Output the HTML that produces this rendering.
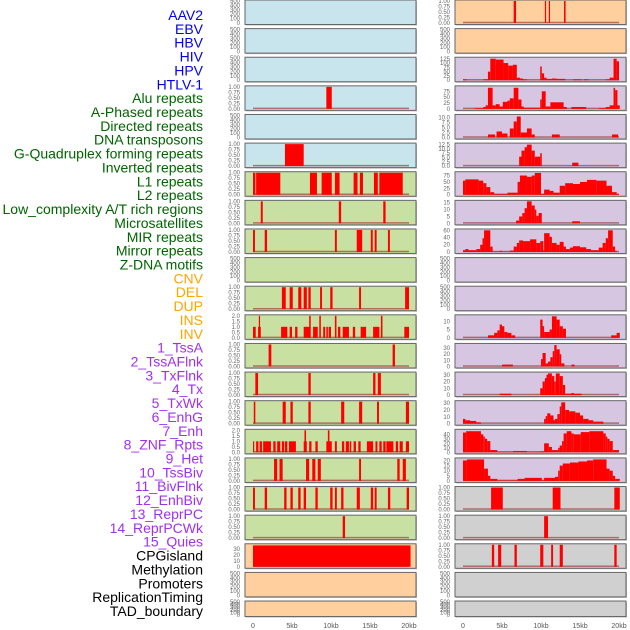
<!DOCTYPE html>
<html><head><meta charset="utf-8"><style>
html,body{margin:0;padding:0;background:#fff;}
svg{display:block;font-family:"Liberation Sans",sans-serif;}
</style></head><body>
<svg id="chart" width="630" height="630" viewBox="0 0 630 630" xmlns="http://www.w3.org/2000/svg"></svg>
<script>
// ---- track labels ----
const trackLabels = ["AAV2","EBV","HBV","HIV","HPV","HTLV-1","Alu repeats","A-Phased repeats","Directed repeats","DNA transposons","G-Quadruplex forming repeats","Inverted repeats","L1 repeats","L2 repeats","Low_complexity A/T rich regions","Microsatellites","MIR repeats","Mirror repeats","Z-DNA motifs","CNV","DEL","DUP","INS","INV","1_TssA","2_TssAFlnk","3_TxFlnk","4_Tx","5_TxWk","6_EnhG","7_Enh","8_ZNF_Rpts","9_Het","10_TssBiv","11_BivFlnk","12_EnhBiv","13_ReprPC","14_ReprPCWk","15_Quies","CPGisland","Methylation","Promoters","ReplicationTiming","TAD_boundary"];
const labelColors = ["#0000ee","#0000ee","#0000ee","#0000ee","#0000ee","#0000ee","#006400","#006400","#006400","#006400","#006400","#006400","#006400","#006400","#006400","#006400","#006400","#006400","#006400","#ffa500","#ffa500","#ffa500","#ffa500","#ffa500","#a030f0","#a030f0","#a030f0","#a030f0","#a030f0","#a030f0","#a030f0","#a030f0","#a030f0","#a030f0","#a030f0","#a030f0","#a030f0","#a030f0","#a030f0","#000","#000","#000","#000","#000"];
const xTickValues = [0,5,10,15,20];
const xTickLabels = ["0","5kb","10kb","15kb","20kb"];
const emptyTicks = [0,100,200,300,400,500];
const binTicks = [0,0.25,0.5,0.75,1];

// ---- left column data: [startKb, endKb, value] ----
const L3 = [[9.4,10.1,1]];
const L5 = [[4.1,6.5,1]];
const L6 = [[0,0.3,1],[0.4,3.5,1],[7.3,8.2,1],[8.8,10.1,1],[10.5,11.1,1],[12.9,13.4,1],[13.7,14.1,1],[15.5,16.0,1],[16.2,19.2,1]];
const L7 = [[1.0,1.25,1],[11.0,11.3,1],[16.7,17.0,1]];
const L8 = [[0,0.25,1],[1.5,1.8,1],[10.5,10.75,1],[13.3,14.0,1],[15.1,15.35,1],[15.6,15.85,1],[17.3,17.55,1]];
const L10 = [[3.7,4.2,1],[4.7,5.1,1],[5.8,6.2,1],[6.5,6.9,1],[7.1,7.4,1],[8.6,8.85,1],[9.9,10.2,1],[13.6,13.85,1],[19.5,20.0,1]];
const L11 = [[0,0.35,1],[0.65,1.0,1],[3.6,4.4,1],[4.7,5.0,1],[5.4,5.7,1],[6.5,7.3,1],[7.7,8.3,1],[9.0,9.25,1],[9.4,9.6,1],[9.7,10.0,1],[10.9,11.2,1],[11.5,12.3,1],[12.8,13.1,1],[13.8,14.5,1],[15.4,16.2,1],[19.4,20.0,1],[0.75,0.9,2],[7.2,7.4,2],[8.5,8.7,2],[10.5,10.7,2],[16.4,16.6,2]];
const L12 = [[2.0,2.35,1],[17.9,18.2,1]];
const L13 = [[0.3,0.65,1],[7.1,7.4,1],[15.4,15.7,1],[16.0,16.4,1]];
const L14 = [[0.1,0.3,1],[3.8,4.2,1],[4.8,5.1,1],[7.1,7.4,1],[11.3,11.7,1],[13.6,14.0,1],[15.9,16.15,1],[19.6,20.0,1]];
const L15 = [[0,0.15,1],[0.4,0.7,1],[0.85,1.15,1],[1.3,2.3,1],[2.6,2.9,1],[3.1,3.5,1],[3.7,4.0,1],[4.1,4.4,1],[4.6,5.5,1],[6.5,6.9,1],[7.2,7.5,1],[8.0,8.3,1],[9.4,10.1,1],[10.5,10.75,1],[11.4,11.7,1],[11.9,12.3,1],[12.4,12.6,1],[12.9,13.2,1],[13.5,13.8,1],[14.6,15.4,1],[15.7,15.95,1],[16.2,16.5,1],[16.7,17.0,1],[17.1,18.0,1],[18.3,18.6,1],[18.8,19.2,1],[19.6,20.0,1],[6.6,6.8,2],[9.6,9.8,2]];
const L16 = [[2.7,3.1,1],[3.4,3.8,1],[6.8,7.2,1],[7.6,8.0,1],[8.3,8.7,1],[13.6,13.85,1],[18.5,18.8,1],[19.2,19.6,1]];
const L17 = [[0,0.25,1],[1.5,1.8,1],[4.0,4.3,1],[4.8,5.1,1],[5.8,6.1,1],[6.5,6.8,1],[8.0,8.3,1],[9.9,10.2,1],[10.5,10.75,1],[11.3,11.6,1],[13.3,13.7,1],[15.1,15.4,1],[15.6,15.85,1],[17.3,17.6,1],[19.7,20.0,1]];
const L18 = [[11.5,11.8,1]];
const L19 = [[0,20.2,36]];

// ---- right column data ----
const R0 = [[6.5,6.8,1],[10.5,10.65,1],[11.0,11.15,1],[12.95,13.15,1]];
const R2 = [[0,0.5,5],[2.6,3.2,5],[3.2,3.5,50],[3.5,4.2,125],[4.2,5.2,120],[5.2,5.8,100],[5.8,6.4,85],[6.4,6.9,90],[6.9,7.3,15],[7.3,7.7,10],[7.7,8.2,5],[9.9,10.1,80],[10.1,10.4,40],[10.4,10.7,15],[10.7,11.4,8],[11.4,12.0,10],[12.0,13.1,8],[14.1,15.2,5],[15.5,16.1,5],[18.3,18.8,5],[18.8,19.3,15],[19.3,19.7,125],[19.7,20.0,110]];
const R3 = [[1.5,2.6,3],[2.6,2.9,8],[2.9,3.2,15],[3.2,3.8,90],[3.8,4.2,15],[4.2,4.7,20],[4.7,5.1,10],[5.1,5.7,30],[5.7,6.0,35],[6.0,6.5,45],[6.5,7.1,90],[7.1,7.5,40],[7.5,7.8,10],[7.8,9.9,5],[9.9,10.1,40],[10.1,10.6,75],[10.6,11.2,10],[11.2,12.9,28],[12.9,13.3,8],[13.9,15.8,8],[17.4,18.3,3],[18.3,18.8,8],[18.8,19.3,15],[19.3,19.5,90],[19.5,19.8,80],[19.8,20.1,15]];
const R4 = [[3.2,4.1,1.5],[4.3,5.0,3],[5.0,5.7,2],[6.0,6.5,4.5],[6.5,6.9,8],[6.9,7.4,10.5],[7.4,8.2,2.5],[8.2,8.8,4.5],[8.8,9.2,1.5],[11.4,12.4,1.5],[19.1,19.9,1.5]];
const R5 = [[7.2,7.5,5.5],[7.5,7.9,9],[7.9,8.2,11],[8.2,8.8,12.5],[8.8,9.2,9],[9.2,9.9,5.5],[9.9,10.1,7.5],[14.0,14.8,2]];
const R6 = [[0,0.3,55],[0.3,2.0,60],[2.0,2.6,55],[2.6,3.0,45],[3.0,3.5,30],[3.5,4.0,10],[4.0,5.7,3],[5.7,7.0,8],[7.0,7.3,50],[7.3,8.2,75],[8.2,8.8,70],[8.8,9.2,75],[9.2,10.0,85],[10.0,10.4,3],[10.4,11.1,20],[11.1,11.6,15],[11.6,12.4,8],[12.4,13.1,35],[13.1,14.1,45],[14.1,15.0,42],[15.0,15.9,50],[15.9,17.1,58],[17.1,18.4,55],[18.4,19.1,35],[19.1,19.7,10],[19.7,20.0,3]];
const R7 = [[6.8,7.2,2],[7.2,7.6,5],[7.6,7.9,7.5],[7.9,8.2,11],[8.2,8.8,16],[8.8,9.2,13],[9.2,9.4,10],[9.4,9.7,5.5],[9.7,10.1,7.5],[14.0,15.0,1.5]];
const R8 = [[0,0.3,5],[0.3,0.7,8],[0.7,1.7,5],[1.7,2.2,8],[2.2,2.5,20],[2.5,2.7,38],[2.7,3.5,60],[3.5,3.8,15],[3.8,4.7,1],[4.7,5.0,3],[5.0,6.0,1],[6.0,6.5,4],[6.5,6.9,15],[6.9,7.2,25],[7.2,7.7,32],[7.7,8.6,30],[8.6,9.4,35],[9.4,9.9,25],[9.9,10.3,30],[10.3,10.4,5],[10.4,11.1,52],[11.1,11.4,42],[11.4,12.0,25],[12.0,12.4,20],[12.4,12.9,28],[12.9,13.2,15],[13.2,13.7,8],[13.7,14.1,12],[14.1,15.0,16],[15.0,15.8,13],[15.8,16.4,8],[16.4,17.4,5],[17.4,17.9,12],[17.9,18.3,25],[18.3,18.6,38],[18.6,19.2,60],[19.2,19.5,15],[19.5,19.7,3]];
const R11 = [[3.2,4.0,1.5],[4.0,4.4,3],[4.4,4.7,4.5],[4.7,5.0,8],[5.0,5.3,7],[5.3,5.7,3.5],[5.7,6.2,3],[6.2,6.7,1.5],[9.9,10.2,11],[10.2,10.4,7],[10.4,11.1,3.5],[11.1,11.4,5],[11.4,12.0,13],[12.0,12.4,11],[12.4,12.8,7],[12.8,13.2,5.5],[19.0,19.7,1.5],[19.7,20.1,3]];
const R12 = [[5.0,6.4,3],[10.0,10.2,12],[10.2,10.6,22],[10.6,10.9,5],[10.9,11.2,8],[11.2,11.5,15],[11.5,11.7,25],[11.7,12.0,35],[12.0,12.4,28],[12.4,12.6,20],[12.6,13.0,5],[13.9,14.3,3]];
const R13 = [[4.7,6.2,2],[9.9,10.2,10],[10.2,10.5,20],[10.5,10.7,25],[10.7,10.9,30],[10.9,11.4,32],[11.4,11.7,28],[11.7,11.9,20],[11.9,12.4,32],[12.4,12.8,28],[12.8,13.1,15],[13.1,13.9,2],[13.9,14.2,3],[14.2,15.2,2]];
const R14 = [[0,0.3,7],[0.3,0.9,5],[0.9,1.7,4],[1.7,2.3,2],[10.4,10.6,7],[10.6,10.8,11],[10.8,11.2,15],[11.2,11.6,12],[11.6,11.8,5],[11.8,12.1,7],[12.1,12.4,14],[12.4,12.6,25],[12.6,13.1,31],[13.1,13.6,20],[13.6,14.4,18],[14.4,15.0,16],[15.0,15.4,12],[15.4,16.1,7],[16.1,16.7,5],[16.7,18.0,3]];
const R15 = [[0,0.4,44],[0.4,2.3,47],[2.3,2.6,40],[2.6,2.8,35],[2.8,3.1,30],[3.1,3.5,25],[3.5,4.4,5],[4.4,6.4,1],[6.4,8.2,3],[8.2,9.9,1],[9.9,10.4,2],[10.4,11.0,20],[11.0,11.4,12],[11.4,12.2,5],[12.2,12.4,10],[12.4,12.7,15],[12.7,12.9,25],[12.9,13.3,42],[13.3,13.9,47],[13.9,14.2,42],[14.2,15.1,40],[15.1,16.2,45],[16.2,18.0,47],[18.0,18.3,42],[18.3,18.5,35],[18.5,18.8,30],[18.8,19.2,25],[19.2,20.0,5]];
const R16 = [[0,0.5,20],[0.5,2.7,21],[2.7,3.2,12],[3.2,3.5,5],[3.5,4.4,2],[4.4,7.0,0.5],[7.0,7.9,2],[7.9,10.1,3],[10.1,10.4,0.5],[10.4,11.8,3],[11.8,12.2,4],[12.2,12.4,10],[12.4,12.8,15],[12.8,13.7,17],[13.7,14.8,18],[14.8,15.9,19],[15.9,16.7,20],[16.7,18.4,21],[18.4,18.8,12],[18.8,19.2,10],[19.2,19.5,5],[19.5,20.1,2]];
const R17 = [[3.6,5.1,1],[11.5,12.5,1],[19.4,20.1,1]];
const R18 = [[10.4,10.9,1]];
const R19 = [[3.7,4.0,1],[4.5,4.9,1],[6.6,6.9,1],[9.9,10.3,1],[11.3,11.55,1],[12.4,12.8,1],[19.4,19.7,1]];

const R2ticks=[0,25,50,75,100,125], R3ticks=[0,25,50,75], R4ticks=[0,2.5,5,7.5,10], R5ticks=[0,2.5,5,7.5,10,12.5], R6ticks=[0,25,50,75], R7ticks=[0,5,10,15], R8ticks=[0,20,40,60], R11ticks=[0,5,10], R12ticks=[0,10,20,30], R13ticks=[0,10,20,30], R14ticks=[0,10,20,30], R15ticks=[0,10,20,30,40], R16ticks=[0,5,10,15,20], L19ticks=[0,10,20,30], twoTicks=[0,0.5,1,1.5,2];

const BLUE="#c8e4ec", GREEN="#c8e0a2", PEACH="#ffd09e", LAV="#d6c6e2", GRAY="#d0d0d0";
const leftRows = [
 [BLUE,null,500,emptyTicks,0],[BLUE,null,500,emptyTicks,0],[BLUE,null,500,emptyTicks,0],[BLUE,L3,1,binTicks,2],[BLUE,null,500,emptyTicks,0],[BLUE,L5,1,binTicks,2],
 [GREEN,L6,1,binTicks,2],[GREEN,L7,1,binTicks,2],[GREEN,L8,1,binTicks,2],[GREEN,null,500,emptyTicks,0],[GREEN,L10,1,binTicks,2],[GREEN,L11,2,twoTicks,1],
 [GREEN,L12,1,binTicks,2],[GREEN,L13,1,binTicks,2],[GREEN,L14,1,binTicks,2],[GREEN,L15,2,twoTicks,1],[GREEN,L16,1,binTicks,2],[GREEN,L17,1,binTicks,2],[GREEN,L18,1,binTicks,2],
 [PEACH,L19,37,L19ticks,0],[PEACH,null,500,emptyTicks,0],[PEACH,null,500,emptyTicks,0]];
const rightRows = [
 [PEACH,R0,1,binTicks,2],[PEACH,null,500,emptyTicks,0],
 [LAV,R2,128,R2ticks,0],[LAV,R3,94,R3ticks,0],[LAV,R4,11,R4ticks,1],[LAV,R5,12.8,R5ticks,1],[LAV,R6,86,R6ticks,0],[LAV,R7,16,R7ticks,0],[LAV,R8,61,R8ticks,0],
 [LAV,null,500,emptyTicks,0],[LAV,null,500,emptyTicks,0],[LAV,R11,13.3,R11ticks,0],[LAV,R12,36,R12ticks,0],[LAV,R13,32.5,R13ticks,0],[LAV,R14,32,R14ticks,0],[LAV,R15,49,R15ticks,0],[LAV,R16,21.5,R16ticks,0],
 [GRAY,R17,1,binTicks,2],[GRAY,R18,1,binTicks,2],[GRAY,R19,1,binTicks,2],[GRAY,null,500,emptyTicks,0],[GRAY,null,500,emptyTicks,0]];

const NS="http://www.w3.org/2000/svg";
const svgEl=document.getElementById('chart');
function mk(tag,attrs,parent){const e=document.createElementNS(NS,tag);for(const k in attrs)e.setAttribute(k,attrs[k]);(parent||svgEl).appendChild(e);return e;}

trackLabels.forEach((t,i)=>{
  const e=mk('text',{x:203,y:15+i*13.86+5,'text-anchor':'end','font-size':14,fill:labelColors[i]});
  
  
  e.textContent=t;
});

const PITCH=28.62;
function drawCol(rows,px0,zeroX,colName){
  const kbW=7.8;
  const xs=kb=>zeroX+kb*kbW;
  rows.forEach((row,r)=>{
    const bg=row[0], data=row[1], ymax=row[2], ticks=row[3], dec=row[4];
    const top=r*PITCH, h=(r===rows.length-1)?15.5:24.5;
    const g=mk('g',{});
    
    
    mk('rect',{x:px0+1,y:top+1,width:171,height:h,fill:'#bbb'},g);
    mk('rect',{x:px0,y:top,width:171,height:h,fill:bg,stroke:'#666','stroke-width':1},g);
    const pTop=top+1, pBot=top+h-1.5;
    const ys=v=>pBot-v/ymax*(pBot-pTop);
    ticks.forEach(tv=>{
      const t=mk('text',{x:px0-5,y:ys(tv)+2,'text-anchor':'end','font-size':6,fill:'#666'},g);
      
      
      t.textContent=tv.toFixed(dec);
    });
    if(data){
      mk('line',{x1:xs(0),x2:xs(20),y1:pBot-0.5,y2:pBot-0.5,stroke:'#a04040','stroke-width':1.5,'stroke-opacity':0.7},g);
      data.forEach(d=>{
        const b=mk('rect',{x:xs(d[0]),y:ys(d[2]),width:Math.max(1.2,xs(d[1])-xs(d[0])),height:pBot-ys(d[2]),fill:'#ff0000'},g);
        
        
      });
    }
  });
  xTickValues.forEach((v,i)=>{
    const t=mk('text',{x:xs(v),y:628,'text-anchor':'middle','font-size':7,fill:'#555'});
    
    
    t.textContent=xTickLabels[i];
  });
}
drawCol(leftRows,245,253,'left');
drawCol(rightRows,455,463,'right');
</script>
</body></html>
